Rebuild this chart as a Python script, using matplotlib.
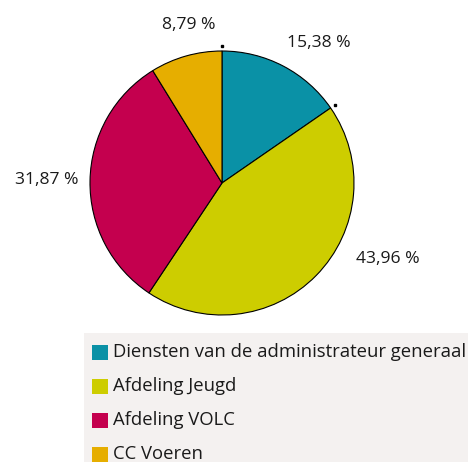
import numpy as np
import matplotlib.pyplot as plt
from matplotlib.patches import Rectangle

categories = ['Diensten van de administrateur generaal', 'Afdeling Jeugd',
              'Afdeling VOLC', 'CC Voeren']
shares = [15.38, 43.96, 31.87, 8.79]
colors = ['#0a91a6', '#cdcd00', '#c4004e', '#e6ae00']

plt.rcParams['font.family'] = ['Open Sans', 'DejaVu Sans']

W, H = 468, 462
fig = plt.figure(figsize=(W / 100, H / 100), dpi=100)

# pie, centre (222,183) px from top-left, radius 132 px
cx, cy, r = 222, 183, 132
ax = fig.add_axes([(cx - r) / W, (H - cy - r) / H, 2 * r / W, 2 * r / H])
wedges, _ = ax.pie(shares, colors=colors, startangle=90, counterclock=False,
                   wedgeprops=dict(edgecolor='black', linewidth=0.8))
ax.set_xlim(-1, 1)
ax.set_ylim(-1, 1)
ax.set_aspect('auto')
ax.axis('off')

# percentage labels, angles nudged a bit like the original
nudge = [-7, 20, 0, -4]
dist = [1.29, 1.38, 1.33, 1.22]
for w, val, n, d in zip(wedges, shares, nudge, dist):
    ang = np.deg2rad((w.theta1 + w.theta2) / 2 + n)
    ax.text(d * np.cos(ang), d * np.sin(ang), f'{val:.2f} %'.replace('.', ','),
            ha='center', va='center', fontsize=12.6, color='#1a1a1a', clip_on=False)

# little tick marks at the first slice's edges
for t in (wedges[0].theta1, wedges[0].theta2):
    a = np.deg2rad(t)
    ax.plot(1.04 * np.cos(a), 1.04 * np.sin(a), 's', ms=1.8, color='black', clip_on=False)

# legend panel
fig.patches.append(Rectangle((84 / W, 0), (W - 84) / W, (H - 333) / H,
                             transform=fig.transFigure, facecolor='#f4f1f0',
                             edgecolor='none', zorder=0))
for i, (lab, col) in enumerate(zip(categories, colors)):
    yc = 352 + i * 34
    fig.patches.append(Rectangle((92 / W, (H - yc - 8) / H), 16 / W, 15 / H,
                                 transform=fig.transFigure, facecolor=col,
                                 edgecolor='none'))
    fig.text(113 / W, (H - yc) / H, lab, ha='left', va='center', fontsize=13.3,
             color='#1a1a1a')

fig.savefig('out.png', dpi=100)
